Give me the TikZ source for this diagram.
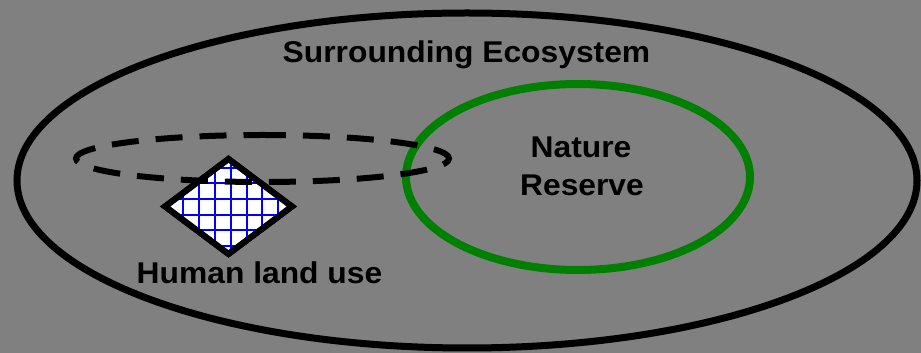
\documentclass[tikz,border=0pt]{standalone}
\usepackage{fontspec}
\setmainfont{Liberation Sans}
\definecolor{resgreen}{RGB}{0,128,0}
\definecolor{bggray}{RGB}{128,128,128}
\begin{document}
\begin{tikzpicture}[x=1pt,y=1pt,
  lbl/.style={font=\bfseries\fontsize{30}{36}\selectfont, inner sep=0pt, anchor=base, xscale=1.06, text=black},
  outerell/.style={draw=black, line width=7pt},
  reserveell/.style={draw=resgreen, line width=8pt},
  zoneell/.style={draw=black, line width=6pt, dash pattern=on 27pt off 17pt, dash phase=8pt},
  landuse/.style={draw=black, line width=6pt, fill=white, miter limit=10},
  gridline/.style={draw=blue, line width=2pt}]
\useasboundingbox (0,0) rectangle (921,353);
\fill[bggray] (0,0) rectangle (921,353);
% surrounding ecosystem
\draw[outerell] (467,172.5) ellipse [x radius=450, y radius=167.5];
% nature reserve
\draw[reserveell] (578,176) ellipse [x radius=172, y radius=93];
% human land use diamond with grid
\path[landuse] (228.5,194) -- (292,146.5) -- (228.5,99) -- (165,146.5) -- cycle;
\begin{scope}
  \clip (228.5,194) -- (292,146.5) -- (228.5,99) -- (165,146.5) -- cycle;
  \foreach \i in {-2,...,8} {
    \draw[gridline] (183.3+15.8*\i,90) -- (183.3+15.8*\i,200);
    \draw[gridline] (150,169.7-15.7*\i) -- (300,169.7-15.7*\i);
  }
\end{scope}
\draw[landuse, fill=none] (228.5,194) -- (292,146.5) -- (228.5,99) -- (165,146.5) -- cycle;
% dashed zone of influence
\draw[zoneell] (262.5,218) arc[start angle=90, end angle=450, x radius=186.5, y radius=23.5];
% labels
\node[lbl] (eco) at (466.5,290) {Surrounding Ecosystem};
\node[lbl] (nat1) at (581,195) {Nature};
\node[lbl] (nat2) at (582,157) {Reserve};
\node[lbl] (hum) at (259.5,69) {Human land use};
\end{tikzpicture}
\end{document}
